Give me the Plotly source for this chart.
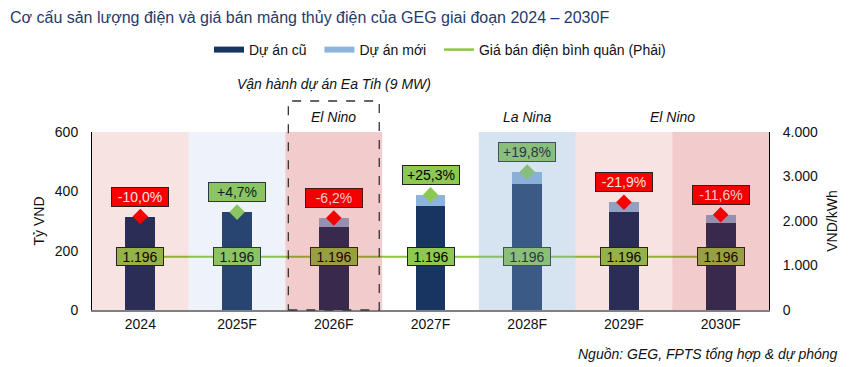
import plotly.graph_objects as go

# ---------------- data ----------------
years = ["2024", "2025F", "2026F", "2027F", "2028F", "2029F", "2030F"]
old_projects = [315, 330, 281, 352, 424, 329, 292]      # Dự án cũ (tỷ VND)
new_projects = [0, 0, 29, 36, 41, 34, 29]               # Dự án mới (tỷ VND)
avg_price = [1196, 1196, 1196, 1196, 1196, 1196, 1196]  # VND/kWh (phải)
growth = [-10.0, 4.7, -6.2, 25.3, 19.8, -21.9, -11.6]   # % tăng trưởng
band_tone = ["pink", "blue", "pink", None, "blue", "pink", "pink"]
band_alpha = [0.11, 0.145, 0.2, 0.0, 0.33, 0.11, 0.2]
event_text = ["El Nino", "La Nina", "El Nino"]
event_x = [2, 4, 5.5]
ops_note = "Vận hành dự án Ea Tih (9 MW)"
ops_index = 2
left_ticks = [0, 200, 400, 600]
right_ticks = [0, 1000, 2000, 3000, 4000]

# ---------------- styles ----------------
FONT = "Liberation Sans, Arial, sans-serif"
FS = 14
C_OLD = "#183461"
C_NEW = "#8DB4DA"
C_LINE = "#8DC63F"
C_LABEL_G = "#8DC850"
C_RED = "#FF0000"
TONES = {"pink": (192, 0, 0), "blue": (130, 170, 210)}
W, H = 850, 367
OFF = 8  # page body margin offset of the rendered div
# plot area in page pixels: x 92..769, y 132..310
ML, MT = 92 - OFF, 132 - OFF
MR, MB = W - (769 - OFF), H - (310 - OFF)
PW, PH = W - ML - MR, H - MT - MB


def px_x(px):
    return (px - OFF - ML) / PW


def px_y(py):
    return (H - MB - (py - OFF)) / PH


def hex2rgb(h):
    h = h.lstrip("#")
    return tuple(int(h[i:i + 2], 16) for i in (0, 2, 4))


def tint(color, i):
    r, g, b = hex2rgb(color)
    tone = band_tone[i]
    a = band_alpha[i]
    if tone is None:
        return f"rgb({r},{g},{b})"
    tr, tg, tb = TONES[tone]
    return "rgb({},{},{})".format(round(r * (1 - a) + tr * a),
                                  round(g * (1 - a) + tg * a),
                                  round(b * (1 - a) + tb * a))


totals = [o + n for o, n in zip(old_projects, new_projects)]

fig = go.Figure()

fig.add_trace(go.Bar(x=years, y=old_projects, marker=dict(color=C_OLD, line=dict(width=0)),
                     showlegend=False, hoverinfo="skip"))
fig.add_trace(go.Bar(x=years, y=new_projects, marker=dict(color=C_NEW, line=dict(width=0)),
                     showlegend=False, hoverinfo="skip"))
fig.add_trace(go.Scatter(x=years, y=avg_price, yaxis="y2", mode="lines",
                         line=dict(color=C_LINE, width=2), showlegend=False, hoverinfo="skip"))
fig.add_trace(go.Scatter(x=years, y=totals, mode="markers",
                         marker=dict(symbol="diamond", size=12,
                                     color=[C_RED if g < 0 else C_LABEL_G for g in growth],
                                     line=dict(width=0)),
                         showlegend=False, hoverinfo="skip"))

# legend entries
NB = "\u00a0"
for name, col, w in [("Dự án cũ" + NB * 2, C_OLD, 6), ("Dự án mới" + NB * 2, C_NEW, 6),
                     ("Giá bán điện bình quân (Phải)", C_LINE, 2.5)]:
    fig.add_trace(go.Scatter(x=[None], y=[None], mode="lines", name=name,
                             line=dict(color=col, width=w)))

shapes = []
for i in range(len(years)):
    if band_tone[i] is None:
        continue
    r, g, b = TONES[band_tone[i]]
    shapes.append(dict(type="rect", xref="x", yref="paper", x0=i - 0.5, x1=i + 0.5, y0=0, y1=1,
                       fillcolor=f"rgba({r},{g},{b},{band_alpha[i]})", line=dict(width=0),
                       layer="above"))
shapes.append(dict(type="rect", xref="x", yref="paper", x0=ops_index - 0.47, x1=ops_index + 0.47,
                   y0=0, y1=px_y(101), fillcolor="rgba(0,0,0,0)",
                   line=dict(color="#333333", width=1.3, dash="dash"), layer="above"))

annotations = []
for i, (t, g) in enumerate(zip(totals, growth)):
    txt = ("+" if g > 0 else "") + f"{g:.1f}".replace(".", ",") + "%"
    bg = C_RED if g < 0 else C_LABEL_G
    fc = "#FFFFFF" if g < 0 else "#000000"
    annotations.append(dict(x=i, y=t, xref="x", yref="y", text=txt, showarrow=False, yshift=20,
                            bgcolor=tint(bg, i), bordercolor=tint("#222222", i), borderwidth=1,
                            width=54, height=16, font=dict(family=FONT, size=14, color=tint(fc, i))))
for i, p in enumerate(avg_price):
    annotations.append(dict(x=i, y=p, xref="x", yref="y2", text=f"{p:,.0f}".replace(",", "."),
                            showarrow=False, bgcolor=tint(C_LABEL_G, i),
                            bordercolor=tint("#222222", i), borderwidth=1, width=44, height=15,
                            font=dict(family=FONT, size=14, color=tint("#000000", i))))
for t, x in zip(event_text, event_x):
    annotations.append(dict(x=x, y=px_y(117), xref="x", yref="paper", yanchor="middle",
                            text=f"<i>{t}</i>", showarrow=False,
                            font=dict(family=FONT, size=FS, color="#111111")))
annotations.append(dict(x=ops_index, y=px_y(84), xref="x", yref="paper", yanchor="middle",
                        text=f"<i>{ops_note}</i>", showarrow=False,
                        font=dict(family=FONT, size=FS, color="#111111")))
annotations.append(dict(x=px_x(840), y=px_y(354), xref="paper", yref="paper",
                        xanchor="right", yanchor="middle",
                        text="<i>Nguồn: GEG, FPTS tổng hợp & dự phóng</i>", showarrow=False,
                        font=dict(family=FONT, size=FS, color="#111111")))

fig.update_layout(
    width=W, height=H,
    margin=dict(l=ML, r=MR, t=MT, b=MB, autoexpand=False),
    paper_bgcolor="white", plot_bgcolor="white",
    barmode="stack", bargap=0.69,
    separators=",.",
    font=dict(family=FONT, size=FS, color="#111111"),
    title=dict(text="Cơ cấu sản lượng điện và giá bán mảng thủy điện của GEG giai đoạn 2024 – 2030F",
               x=(10 - OFF) / W, xref="container", xanchor="left", y=1 - (17 - OFF) / H,
               yref="container", yanchor="middle",
               font=dict(family=FONT, size=16, color="#1F3B6B")),
    legend=dict(orientation="h", x=px_x(440), xanchor="center",
                y=px_y(50), yanchor="middle", traceorder="normal",
                font=dict(family=FONT, size=FS, color="#111111"), itemwidth=30,
                bgcolor="rgba(0,0,0,0)"),
    xaxis=dict(showline=True, linecolor="#808080", linewidth=2, ticks="", showgrid=False,
               tickfont=dict(size=FS), range=[-0.5, len(years) - 0.5], automargin=False),
    yaxis=dict(range=[0, 600], tickvals=left_ticks, showline=True, linecolor="#000000",
               linewidth=1, ticks="", showgrid=False, zeroline=False, ticklabelstandoff=10,
               tickfont=dict(size=FS), automargin=False,
               title=dict(text="Tỷ VND", standoff=6, font=dict(size=FS))),
    yaxis2=dict(range=[0, 4000], tickvals=right_ticks, tickformat=",d", overlaying="y",
                side="right", showline=True, linecolor="#000000", linewidth=1, ticks="",
                showgrid=False, zeroline=False, ticklabelstandoff=10, tickfont=dict(size=FS),
                automargin=False,
                title=dict(text="VND/kWh", standoff=10, font=dict(size=FS))),
    shapes=shapes,
    annotations=annotations,
)

fig.write_html("out.html")
